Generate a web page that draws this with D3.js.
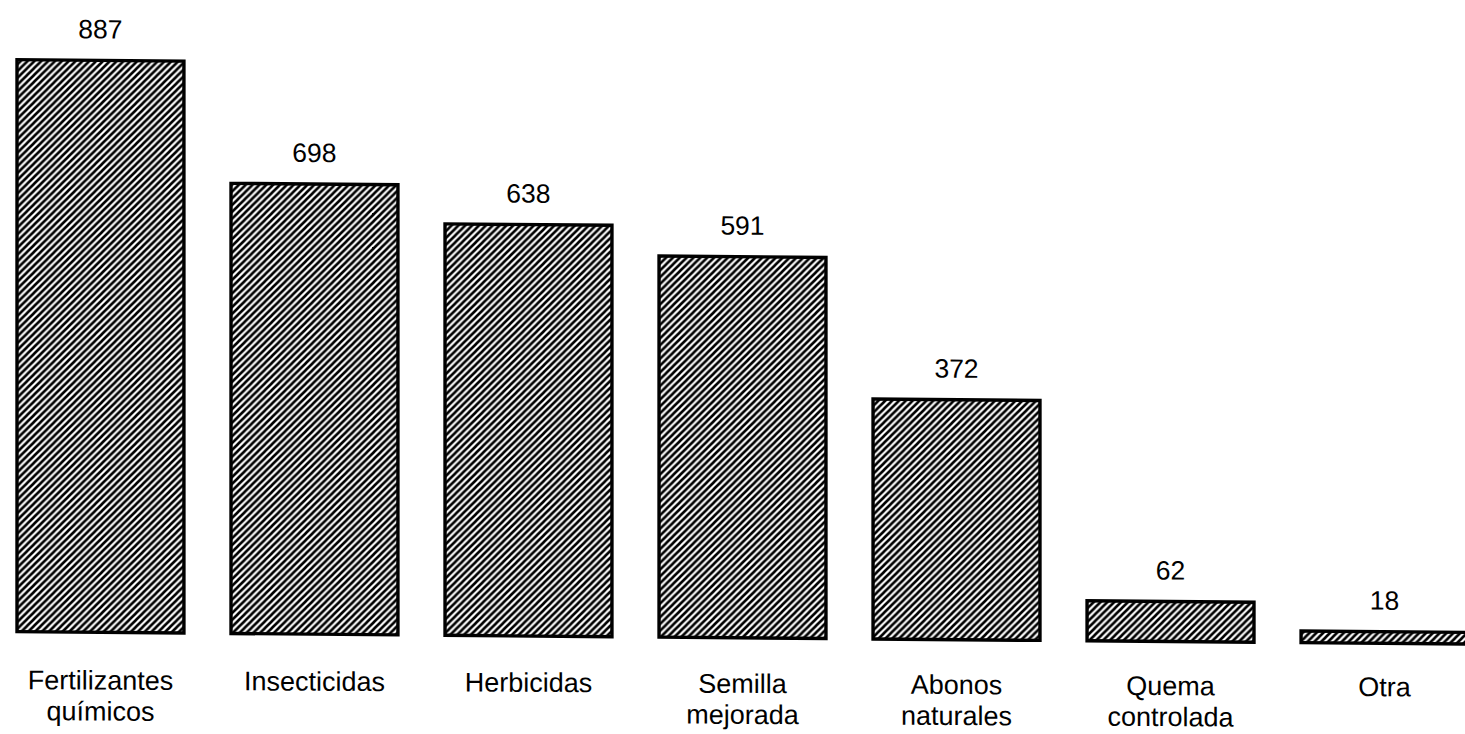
<!DOCTYPE html>
<html><head><meta charset="utf-8">
<script src="https://cdn.jsdelivr.net/npm/d3@7"></script>
<style>body{margin:0;background:#fff}svg{display:block}</style>
</head><body>
<svg id="c" width="1465" height="734"></svg>
<script>
const categories = [["Fertilizantes","químicos"],["Insecticidas"],["Herbicidas"],["Semilla","mejorada"],["Abonos","naturales"],["Quema","controlada"],["Otra"]];
const values = [887, 698, 638, 591, 372, 62, 18];

const svg = d3.select("#c");
const defs = svg.append("defs");
const P = 6.8;
const pat = defs.append("pattern").attr("id","hatch").attr("patternUnits","userSpaceOnUse")
  .attr("width",P).attr("height",P);
pat.append("rect").attr("width",P).attr("height",P).attr("fill","#fff");
pat.append("path").attr("d",`M-1,${P+1} L${P+1},-1 M-1,1 L1,-1 M${P-1},${P+1} L${P+1},${P-1}`).attr("stroke","#000").attr("stroke-width",2.6);

const baseY = 631.5;
const g = svg.append("g").attr("transform","skewY(0.49)");
const x = d3.scaleBand().domain(d3.range(values.length)).range([17,1468]).paddingInner(0.22).paddingOuter(0);
const y = d3.scaleLinear().domain([0,887]).range([baseY, 59.5]);
const font = "Liberation Sans, Arial, sans-serif";

g.selectAll("rect.bar").data(values).join("rect").attr("class","bar")
  .attr("x",(d,i)=>x(i)).attr("y",d=>y(d)).attr("width",x.bandwidth()).attr("height",d=>baseY-y(d))
  .attr("fill","url(#hatch)").attr("stroke","#000").attr("stroke-width",3.4);

g.selectAll("text.val").data(values).join("text").attr("class","val")
  .attr("x",(d,i)=>x(i)+x.bandwidth()/2).attr("y",d=>y(d)-22)
  .attr("text-anchor","middle").attr("font-family",font).attr("font-size",26.5)
  .text(d=>d);

const gl = svg.append("g").attr("transform","skewY(0.3)");
const lab = gl.selectAll("text.cat").data(categories).join("text").attr("class","cat")
  .attr("text-anchor","middle").attr("font-family",font).attr("font-size",27)
  .attr("transform",(d,i)=>`translate(${x(i)+x.bandwidth()/2},689)`);
lab.selectAll("tspan").data(d=>d).join("tspan").attr("x",0).attr("dy",(d,j)=>j?31:0).text(d=>d);
</script>
</body></html>
